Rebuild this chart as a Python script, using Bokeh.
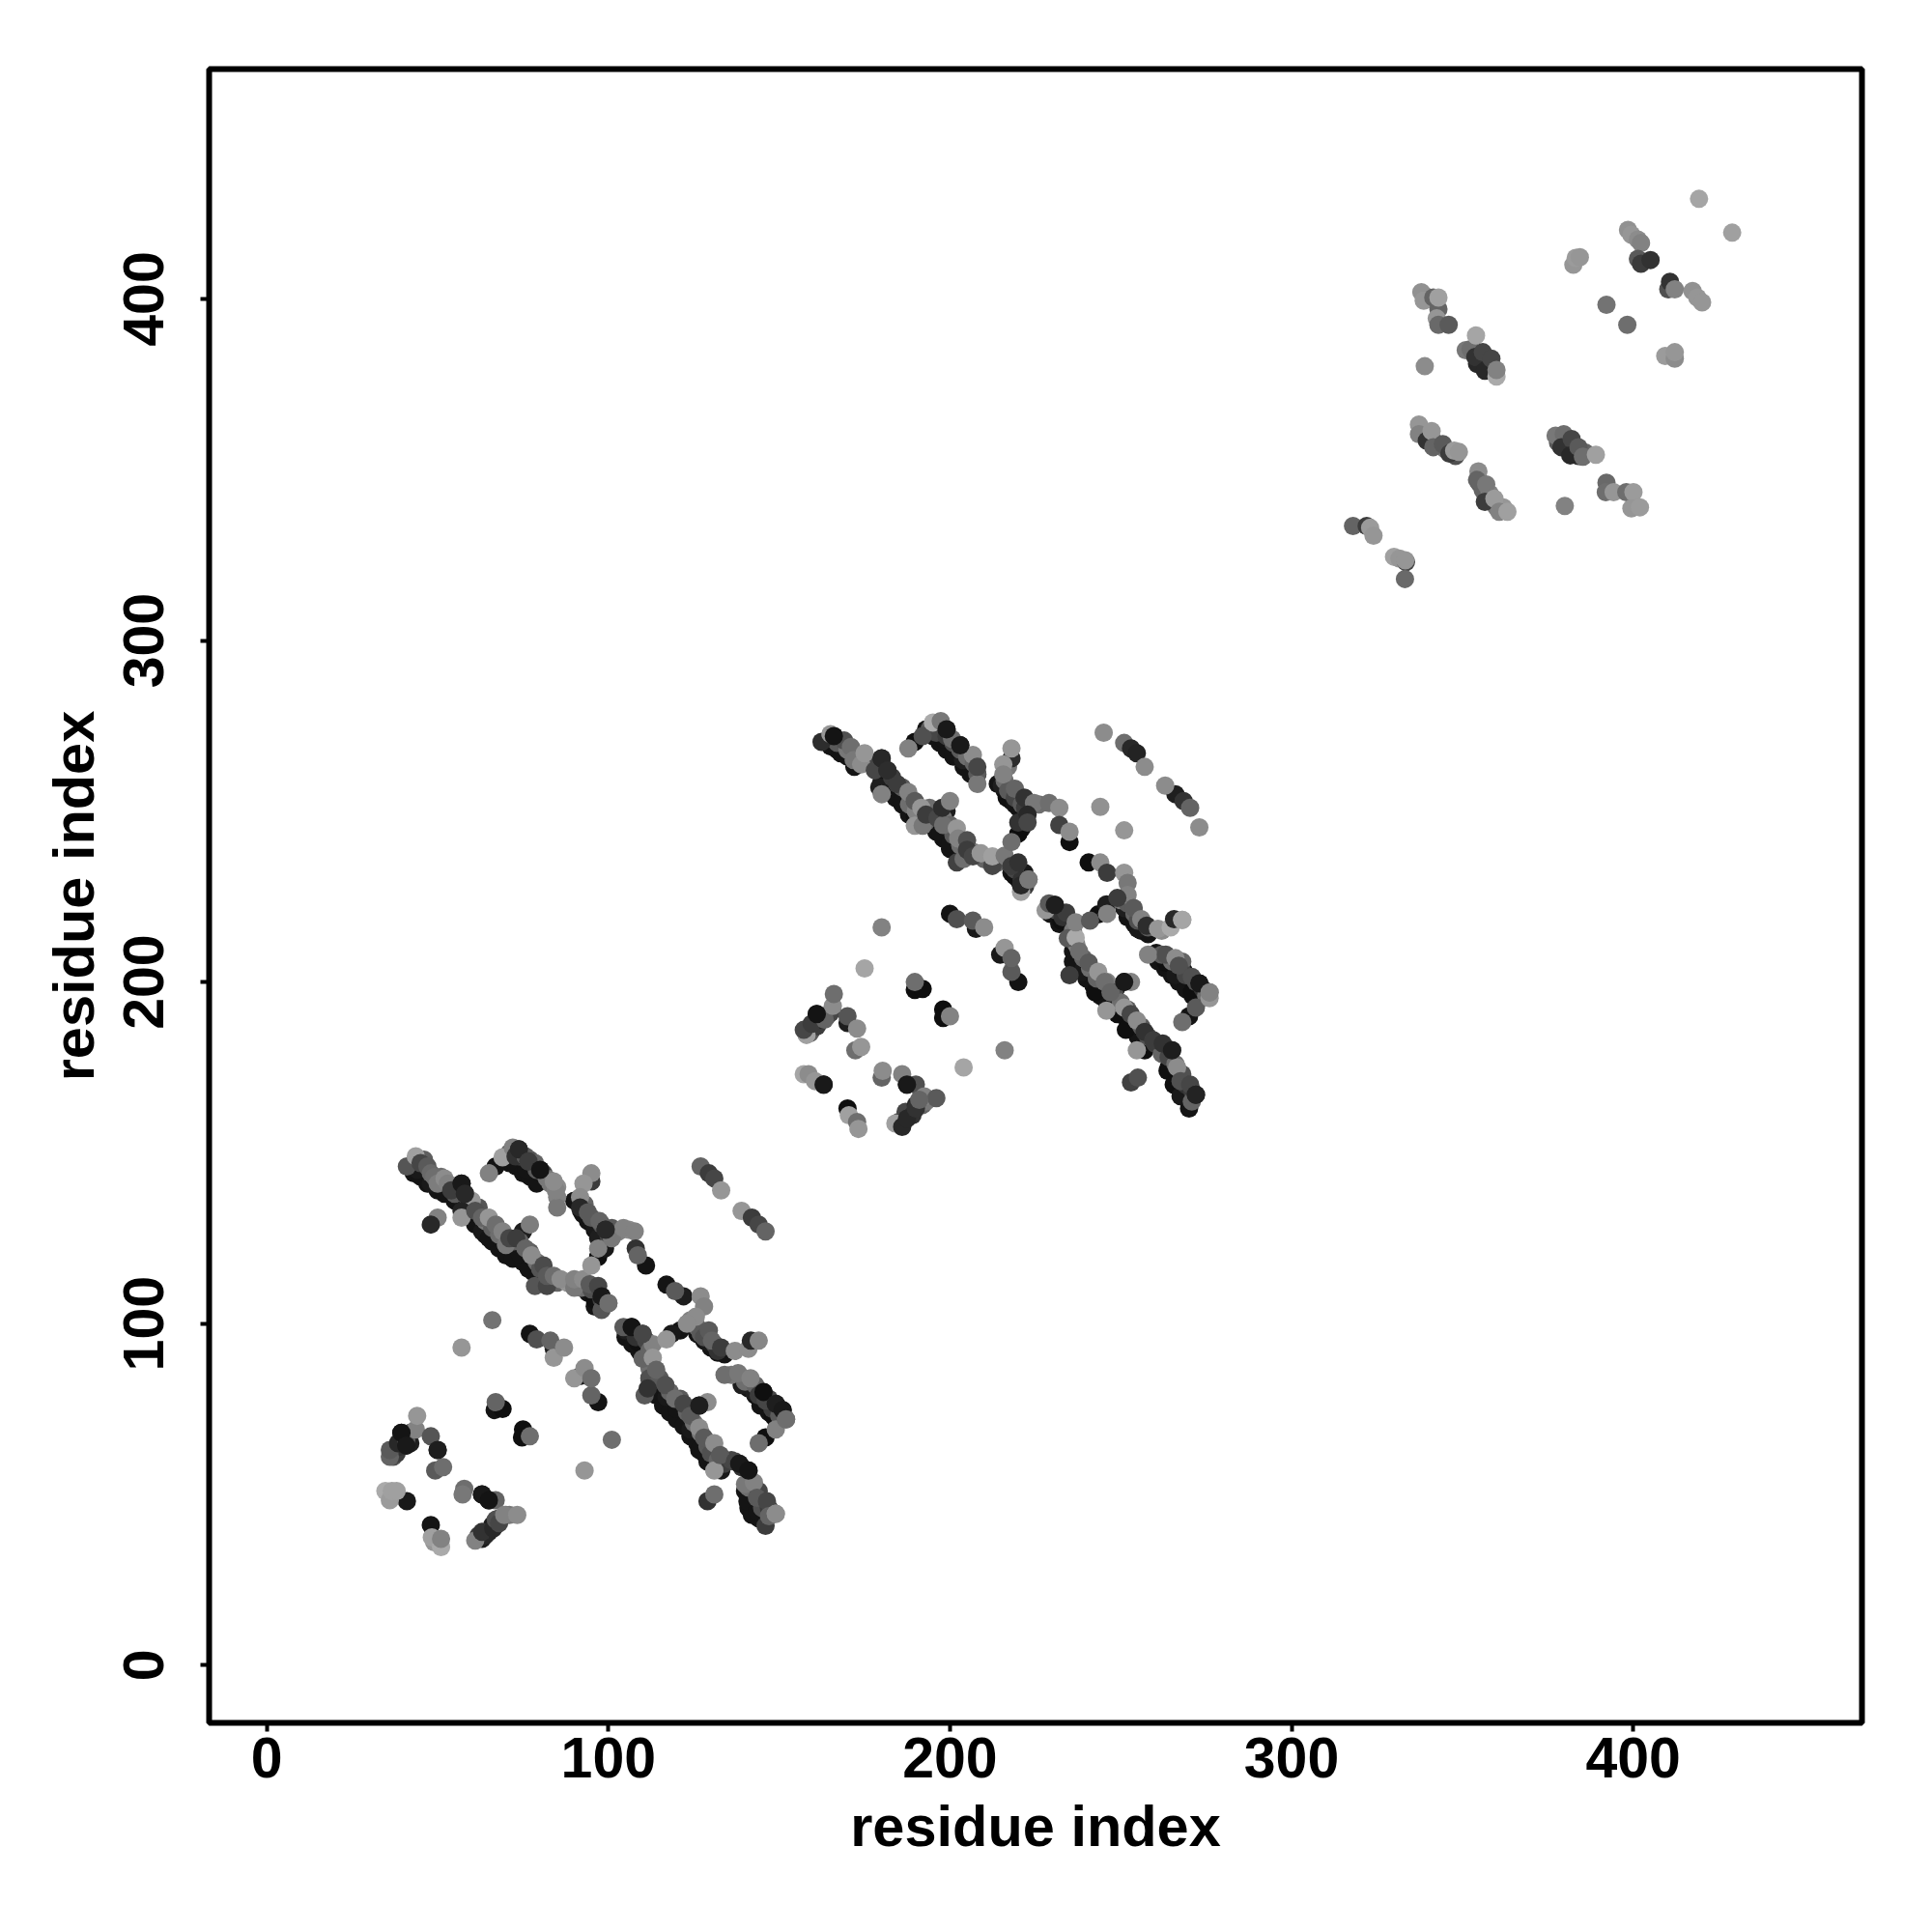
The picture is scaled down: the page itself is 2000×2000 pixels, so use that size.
from bokeh.plotting import figure
from bokeh.models import FixedTicker, ColumnDataSource
from bokeh.embed import file_html
from bokeh.resources import INLINE

# (residue i, residue j, grey level of the contact)
c1_strand_a = [(41,146,85),(43.6,149,160),(44,145,25),(45,147,70),(47,146,90),(48,141,25),(48,144,105),(49,143,110),(50,141,125),
 (52,142.5,140),(53,141,130),(54,139,60),(57,141,25),(58,138,40),(60,136,150),(57,133,35),(57,131,150),(61,129,20),(61,133,80),
 (63,127,25),(63,131,100),(65,125,20),(65,131,150),(67,129,110),(69,127,130),(70,123,120),(71,125,70),(50,131,130),(48,129,40),
 (73,125,60),(75,127,30),(77,129,125),(74,120.5,20),(75.7,122,100),(76.6,116,20),(77.5,120,140),(78.5,111,85),(81,117,75),
 (82,111,70),(82,114,90),(84,114,110),(86,113,140),(90,110.5,120),(90,113,130),(92.6,113,140),(94.5,111.5,90),(96,107,15),
 (97,111,70),(98,104,85),(98,108,25),(100,106,110)]
c1_strand_b = [(65,144,130),(67,146,20),(69,148.7,160),(72,151.5,130),(73.8,151,40),(72.8,149,50),(75.7,149,90),(76,145,20),
 (76.6,147.5,60),(78.5,147,100),(79.5,141.5,20),(80,145,20),(85,134,120),(82,142.5,120),(84.6,139,130),(84,141.6,140)]
c1_strand_c = [(95,141.6,60),(95,144,140),(92.7,141,150),(91.7,137,140),(91.7,134,40),(92.6,132,20),(94,132.6,90),(96,128.4,25),
 (97.4,130,100),(99.2,127.5,40),(101,128,90),(97,125,30),(97,122,130),(97,119.5,15),(99,122,25),(95,117,150),(101,125,120),
 (104.4,128,130),(107.7,127,130),(108,122,50),(108.6,120,100),(111,117,20),(117,111.4,20),(119.5,109.5,90),(122,108,30)]
c1_strand_d = [(104.4,99,90),(106.8,99,20),(105,98,30),(108.7,94.5,15),(110,97,70),(110,89.7,100),(113,94,130),(113,90,150),
 (114,86.5,100),(110.6,79,90),(111.5,81,50),(116.7,82,80),(117,78.5,25),(119.5,78,110),(120,75,20),(122,76.5,70),(126.6,76,30),
 (129,77,140),(124,69,25),(124,73,90),(126.6,69.5,140),(126.6,63,20),(128,66.6,90),(129,59.6,20),(131,65,140),(131,57,150),
 (132.7,61.5,90),(133,57,25),(129,48,50),(131,50,110),(137,59.6,70),(138.3,59,25),(141,57,20),(140.7,48,20),(140,53,120),
 (142.6,53.5,130),(143.5,45,20),(143.5,49,90),(146,40.8,60),(146.4,48,70),(147,43.6,100),(149,44.3,140)]
c1_strand_e = [(134,85,110),(138,85.5,120),(139,82,30),(141.6,84,130),(142.6,80,30),(144.5,76,20),(145.4,80,15),(146,77.5,70),
 (148.2,73,15),(149,76.5,30),(151,74.7,25),(144,65,110),(149,69,130),(146,66.7,15),(152,72,110)]
c1_strand_f = [(127,108,140),(128,105,130),(125.6,102,140),(123,100,140),(121,98,20),(117,95.4,150),(118.5,97,25),(125.6,99,30),
 (129,94.5,25),(129.4,98,90),(130.3,95,100),(134,91,20),(133,93,60),(137,92,140),(141,92.6,140),(141.7,95,40),(144,95,135)]
c1_short = [(127,146,100),(129.4,144,60),(131,142.5,70),(133,139,150),(139,133,150),(142,131,60),(144,129,70),(146,127,100)]
c1_middle = [(77,97,20),(79,95.4,80),(83,95,100),(84,90,150),(84,92.6,30),(87,93,140),(66,101,115),(57,93,150),(90,84,150),
 (91.7,84.6,25),(93,87,140),(95,79,100),(95,84,110),(97,77,20),(67,77,100),(66.7,74.7,20),(69,75,10),(75,69,15),(74.7,66.7,15),
 (77,67,110),(101,66,110),(93,57,150)]
c1_corner = [(36,61,100),(36,63,90),(37.5,63,30),(38.4,65,40),(39.4,68,20),(40.8,66,90),(40.8,64.3,25),(43.6,69,130),(44,73,150),
 (48,67,85),(50,63,30),(49.3,57,90),(51.6,58,110),(34.7,51,170),(36,48.3,155),(36.6,51,160),(38,51,160),(41,48,25),(48,41,20),
 (49,36,150),(48.3,37.4,160),(51,34.6,170),(51,37,130),(57.8,51.6,110),(57.3,50,120),(63,50,25),(65,48.3,20),(67,48.3,100),
 (61,36.5,130),(63,37,30),(63,39,50),(65,39,30),(66.3,40,40),(67,42.6,80),(68,41.6,70),(69.5,44,130),(73.3,44,140)]
c1_under = [(43,144,20),(45,143,20),(47,141,20),(50,139,20),(52,138,20),(55,136,20),(58,134,20),(60,131,20),(62,129,20),(64,126,20),
 (66,124,20),(68,122,20),(70,120,20),(72,119,20),(75,118,20),(78,115,20),(80,113,20),(94,109,20),(96,105,20),(97,106,20),
 (71,147,20),(73,146,20),(75,144,20),(77,143,20),(79,141,20),(90,136,20),(92,133,20),(94,130,20),(96,127.5,20),(98,126,20),
 (105,96,20),(107,94,20),(109,92,20),(112,84,20),(114,79,20),(116,76,20),(118,74,20),(120,72,20),(122,70,20),(124,67,20),
 (126,65,20),(128,62,20),(130,60,20),(132,58,20),(140,51,20),(141,46,20),(142,44,20),(144,43,20),(139,84,20),(141,81,20),
 (143,79,20),(145,76,20),(147,74,20),(149,72,20),(126,97,20),(128,95,20),(130,93,20),(132,91.5,20)]
c1_fill = [(46,148,95),(51,143,110),(55,138,90),(59,135,110),(62,134,85),(64,130,120),(66,128,95),(68,126,110),(72,124,90),
 (74,124,100),(77,121,90),(79,118,110),(80,116,85),(83,113,120),(85,112,100),(88,112,150),(92,110.5,110),(95,110,80),(98,107,60),
 (71,150,90),(74,149,70),(77,148,80),(79,145,90),(81,144,70),(83,141,120),(85,137,130),(85,140,140),(93,135,100),(95,131,90),
 (98,129,80),(100,126,70),(103,127,130),(106,127.5,140),(108,96,50),(111,95,70),(112,92,100),(112,87,110),(112,84,80),(115,84,90),
 (118,80,100),(121,78,90),(123,74,100),(125,71,110),(127,68,120),(129,64,90),(130,62,80),(132,60,100),(134,59,60),(136,60,70),
 (139,58,50),(141,52,110),(144,51,70),(145,46,80),(147,46,60),(136,85,120),(140,83,110),(143,82,100),(144,79,60),(147,78,70),
 (148,75,60),(150,73,90),(124,101,130),(126,99,100),(127,97,90),(128,96,80),(131,94,70),(132,92,50),(37,61,80),(38,62,60),
 (39,64,50),(40,67,50),(42,68,70),(42,65,30),(62,38,60),(64,38,40),(66,41,30),(67,41,50),(68,43,90),(70,44,100),(71,44,120)]
c1_top = [(57,141,25),(58,138,40),(73.8,151,40),(76.6,147.5,60),(80,145,20),(99.2,127.5,40),(106.8,99,20),(110,97,70),(126.6,76,30),
 (138.3,59,25),(141,57,20),(145.4,80,15),(149,76.5,30),(151,74.7,25),(98,108,25),(39.4,68,20),(40.8,64.3,25),(50,63,30),(63,50,25),
 (65,48.3,20),(149,44.3,140),(152,72,110),(100,106,110)]

c2_strand_a = [(162.4,270.3,45),(165,272.6,150),(166,272,20),(168,267,20),(169,270.7,80),(171,268.8,110),(171.8,265,120),
 (174,263.7,140),(175,267,150),(178,262,70),(180,265.5,40),(181.7,262,45),(180,255,130),(179.3,257,30),(184.5,258,60),
 (186,253,20),(187.8,255.6,130),(189.7,253,90),(189.7,245.8,150),(189.7,248.6,15),(191.6,251,150),(192,245.8,120),(193,249,60),
 (196.3,248,70),(197.3,243.4,20),(198,246,110),(197.7,251,45),(199,250,30),(200,253,130),(200,240.6,20),(202,245,150),
 (202,235,65),(202.4,242,130),(204,236,110),(205,241.5,80),(205,238.7,60),(206.7,236.8,70),(209,237.7,150),(212.4,234,70),
 (212.4,236.8,160),(216,237,120),(218,234,60),(219,231,15),(220,235,50),(220.8,226.4,160),(220.8,228.3,40),(221.8,232,25),(223,230,120)]
c2_strand_b = [(187.8,268.4,130),(189.7,270.3,15),(192,272,80),(195,276,170),(197.3,276.4,120),(198,271.2,20),(199,274,25),
 (200.6,271.2,110),(201,267,20),(203,269.3,25),(203.8,265,30),(208,258,120),(206.7,266.5,140),(208,260.8,20),(208,263,70)]
c2_strand_c = [(218,265.5,45),(218,268.4,150),(215.6,263.7,150),(215.6,260.8,130),(215.2,257.5,30),(219,256.6,100),(216.6,254,15),
 (219,252,20),(221.8,254,50),(224.6,252.4,120),(229,252.4,110),(232,251,140),(220,243.4,10),(220,246.7,50),(222.7,249,40),
 (222.7,246.7,70),(218,241,110),(232,246,65),(235,241,15),(235,244,140),(240.6,235,15),(244,235,140),(246,232,60)]
c2_strand_d = [(228,221,150),(229,223,90),(229.3,220,20),(230.7,222.6,30),(232.6,218,15),(234,220.3,60),(234.5,212.8,90),
 (236.8,213,170),(236.8,217.5,130),(237.8,209,110),(236,206,20),(235,202,60),(238.7,203,25),(240.6,205.7,90),(242.5,197,15),
 (243.4,203,150),(245.3,200,110),(247,197,100),(248.6,198,30),(251,200,25),(253,200,130),(245.8,191.6,150),(249,190.6,15),
 (251,192.5,150),(251.5,186,15),(252.9,190.6,70),(254.7,188.7,140),(254.7,180,150),(257,180,15),(257,185.4,50),(259.5,183,60),
 (262.3,182,50),(253,170.6,65),(255,172,80),(265,180,30),(263.7,174,15),(266.5,175,140),(265.5,170,15),(267.5,171,80),
 (267.5,166.6,25),(270,163,20),(270.3,170,70),(270.8,165,100),(272,167,35)]
c2_strand_e = [(258,208,130),(260.4,208.5,20),(263.2,208,80),(263.2,205.7,15),(266,207,140),(266,202,25),(267,204.8,80),(268.4,203.3,20),
 (270.8,197,15),(270.8,201.5,80),(273,199.6,25),(268,188.3,110),(270,190,20),(272,192.5,90),(276,195.3,150),(276,197,130)]
c2_strand_f = [(251,232,150),(252,229,120),(252,225.5,130),(249,224.6,60),(241,218,90),(243.4,219.8,15),(245.8,222.7,30),
 (246,220,130),(251,221.7,30),(253.8,221.7,90),(255,215.6,25),(256,218.4,130),(257.6,216.5,45),(260.9,215.6,150),(264.6,216,170),
 (265.6,218.4,40),(268,218.2,165)]
c2_short = [(245,273,140),(251,270,110),(253,268.4,40),(254.7,267,35),(257,263,140),(263,257.5,140),(266,255,30),(268.4,253,50),
 (270.3,251,100),(273,245.3,140),(244,251.3,145),(251,244.4,150)]
c2_middle = [(180,216,130),(175,204,165),(189.7,200,110),(189.7,197.7,10),(192,198,0),(198,192,10),(198,189.5,0),(200,190,130),
 (216,180,130),(204,175,165),(200,220,20),(202,218.4,80),(206.7,218,90),(207.6,215.6,25),(210,216,140),(216,210,150),
 (214.7,208,25),(218,203,90),(218,207,100),(220,200,20)]
c2_corner = [(158,184.5,160),(157.2,186,70),(159.5,187.8,60),(159.5,186,25),(161,190.6,20),(161.5,188,30),(163.3,189,100),
 (165.7,193,140),(166,196.5,110),(170,188,30),(170,190,85),(172.8,186.4,140),(172.3,180,110),(174,181,150),(157.2,173,165),
 (158.6,173,140),(160.5,171,150),(163,170,25),(170,163,15),(170.4,161,160),(172.8,159,110),(173.2,157,150),(180,172,100),
 (180.3,174,140),(186,173,130),(187.4,170,25),(190,170,80),(192.5,166.5,130),(196,166,90),(184,158.6,160),(186,157.6,40),
 (186.4,159,25),(187.4,160,40),(188.8,162,25),(190,163,50),(191,165.5,100)]
c2_under = [(165,269,20),(167,268,20),(170,266,20),(172,263,20),(180,259,20),(182,256,20),(184,254,20),(186,252,20),(188,249,20),
 (191,247,20),(194,246,20),(196,244,20),(198,242,20),(200,239,20),(203,238,20),(218,232,20),(220,230,20),(193,274,20),(195,272,20),
 (197,270,20),(199,268,20),(201,266,20),(204,263,20),(206,261,20),(214,258,20),(216,256,20),(218,253,20),(220,251,20),(221,248,20),
 (221,245,20),(230,220,20),(232,217,20),(236,209,20),(238,204,20),(240,201,20),(242,199,20),(244,196,20),(246,194,20),(249,192,20),
 (251,190,20),(253,187,20),(255,184,20),(264,175,20),(266,172,20),(268,169,20),(270,167,20),(261,206,20),(263,204,20),(265,202,20),
 (267,200,20),(269,198,20),(271,196,20),(273,195,20),(252,219,20),(254,217,20),(256,215,20),(258,214,20)]
c2_fill = [(167,270,90),(170,268,120),(173,265,110),(176,265,130),(179,264,70),(183,260,60),(186,257,90),(188,252,110),(190,250,130),
 (193,247,100),(194,251,110),(198,248,120),(200,246,100),(201,243,90),(203,240,110),(205,238,90),(207,238,120),(210,236,100),
 (214,235,110),(217,235,90),(219,233,70),(221,230,50),(222,228,60),(194,274,90),(196,273,70),(199,272,60),(201,270,80),(203,268,90),
 (205,266,110),(207,264,100),(208,261,90),(217,263,120),(216,259,110),(217,256,90),(219,254,70),(221,252,90),(222,251,60),(226,252,110),
 (231,221,70),(233,219,50),(236,215,120),(237,211,130),(239,207,100),(241,204,110),(243,201,100),(246,200,130),(248,197,80),(250,194,110),
 (252,192,90),(256,187,90),(258,184,80),(260,182,60),(262,179,100),(264,178,70),(266,176,110),(268,173,80),(269,170,50),(271,168,60),
 (262,208,90),(265,206,110),(268,206,100),(269,202,70),(272,200,80),(274,198,50),(275,196,110),(250,224,120),(252,223,90),(254,220,100),
 (255,218,80),(258,216,90),(262,215,140),(159,185,90),(161,187,60),(162,189,40),(164,190,90),(165,191,70),(185,159,60),(187,162,70),
 (189,161,50),(190,164,40),(192,164,100),(193,165,120)]
c2_top = [(180,265.5,40),(181.7,262,45),(199,274,25),(203,269.3,25),(230.7,222.6,30),(251,200,25),(265,180,30),(272,167,35),(273,199.6,25),
 (166,272,20),(161,190.6,20),(163,170,25),(187.4,170,25),(276,197,130),(223,230,120),(268,218.2,165)]

c3_low = [(318,333.5,100),(322,333.5,60),(323,333,155),(324,330.7,150),(330,324.5,160),(331.6,324,150),(333.5,323,70),(333.3,323.5,150),(333.2,318,105)]
c3_left_upper = [(338,402,145),(338.7,399.5,150),(341.5,400.4,100),(343,397,100),(343,400.4,160),(342.5,394.3,150),(343,392.4,105),
 (346,392.4,90),(339,380.3,140),(352.4,385.3,110),(354,389.3,165),(354.3,381,40),(353.8,383,50),(356,384.4,70),(356.6,379,40),
 (358.5,382.5,70),(360,377.3,170),(360,379.2,130)]
c3_left_lower = [(337.3,363.2,150),(337.3,360.4,130),(339.6,358.5,50),(341,361.3,150),(341.5,356.6,100),(344.3,357.5,90),
 (346.2,354.7,60),(347.6,355.6,155),(349,355.2,150),(354.7,349.5,140),(354.3,347,100),(357,345.7,120),(356.6,340.6,60),
 (359.4,341.5,155),(360.8,337.7,130),(363.2,337.7,160)]
c3_right_lower = [(377.3,360,120),(379.7,360.4,110),(379,356.6,50),(382,359,70),(381.6,354.2,40),(384,356.6,90),(385.3,353.8,110),
 (389.1,354.4,160),(392.2,346.2,105),(392,343.4,110),(394.3,343.4,150),(380,339.4,130),(398,343.4,110),(400.1,343.4,155),
 (399.5,338.7,150),(402,339,155)]
c3_right_upper = [(382.5,410,150),(383.2,412,155),(384.4,412.2,150),(392.2,398.3,115),(398.3,392.4,110),(398.5,420.2,145),
 (399.5,418.8,150),(401.4,417.4,140),(402.3,416.4,130),(401.4,411.7,90),(402.3,410.3,60),(405.1,411.4,50),(410.3,402.8,80),
 (410.8,405,50),(412.2,402.8,130),(417.4,402.3,145),(418.8,400.4,150),(420.2,399,150),(409.4,383.3,155),(412.2,382.5,140),
 (412.2,384.4,150),(419.3,429.3,165),(429,419.4,160)]
c3_fill = [(339,401,140),(340,400,120),(351,385,120),(355,383,60),(357,381,50),(358,380,90),(359,380,110),(338,361,120),(340,359,60),
 (342,358,70),(343,357,140),(345,356,120),(348,354,80),(355,346,90),(356,344,100),(358,341,110),(358,343,130),(360,339,120),
 (362,339,150),(378,358,90),(380,358,70),(381,356,60),(383,356,60),(384,354,50),(386,355,100)]

tick_values = [0, 100, 200, 300, 400]
axis_title = "residue index"
x_limits = (-16.9, 467.0)
y_limits = (-16.9, 467.3)

strands = [c1_corner, c1_middle, c1_strand_a, c1_strand_b, c1_strand_c, c1_strand_d, c1_strand_e, c1_strand_f, c1_short,
           c2_corner, c2_middle, c2_strand_a, c2_strand_b, c2_strand_c, c2_strand_d, c2_strand_e, c2_strand_f, c2_short,
           c3_low, c3_fill, c3_left_upper, c3_left_lower, c3_right_lower, c3_right_upper]
main = [t for s in strands for t in s]
under = c1_under + c2_under
dark_main = [t for t in main if t[2] <= 30]
rest_main = [t for t in main if t[2] > 30]
pts = under + dark_main + c1_fill + c2_fill + rest_main + c1_top + c2_top

def grey(v):
    v = max(v, 14)
    return "#%02x%02x%02x" % (v, v, v)

src = ColumnDataSource(dict(x=[t[0] for t in pts], y=[t[1] for t in pts], c=[grey(t[2]) for t in pts]))

p = figure(frame_width=1711, frame_height=1712, x_range=x_limits, y_range=y_limits,
           output_backend="svg", toolbar_location=None,
           min_border_left=216, min_border_top=71, min_border_right=65, min_border_bottom=190,
           background_fill_color="white", border_fill_color="white")
p.grid.visible = False
p.outline_line_color = "black"
p.outline_line_width = 6
p.scatter("x", "y", source=src, size=19, marker="circle", fill_color="c", line_color=None)

for ax in (p.xaxis[0], p.yaxis[0]):
    ax.ticker = FixedTicker(ticks=tick_values)
    ax.axis_line_color = None
    ax.minor_tick_line_color = None
    ax.major_tick_in = 0
    ax.major_tick_out = 9
    ax.major_tick_line_color = "black"
    ax.major_tick_line_width = 4
    ax.major_label_text_font = "Liberation Sans"
    ax.major_label_text_font_style = "bold"
    ax.major_label_text_font_size = "59px"
    ax.major_label_text_color = "black"
    ax.axis_label = axis_title
    ax.axis_label_text_font = "Liberation Sans"
    ax.axis_label_text_font_style = "bold"
    ax.axis_label_text_font_size = "59.5px"
    ax.axis_label_text_color = "black"
p.xaxis[0].major_label_standoff = 6
p.xaxis[0].axis_label_standoff = 14
p.yaxis[0].major_label_orientation = "parallel"
p.yaxis[0].major_label_standoff = 38
p.yaxis[0].axis_label_standoff = 16

open("out.html", "w").write(file_html(p, INLINE))
